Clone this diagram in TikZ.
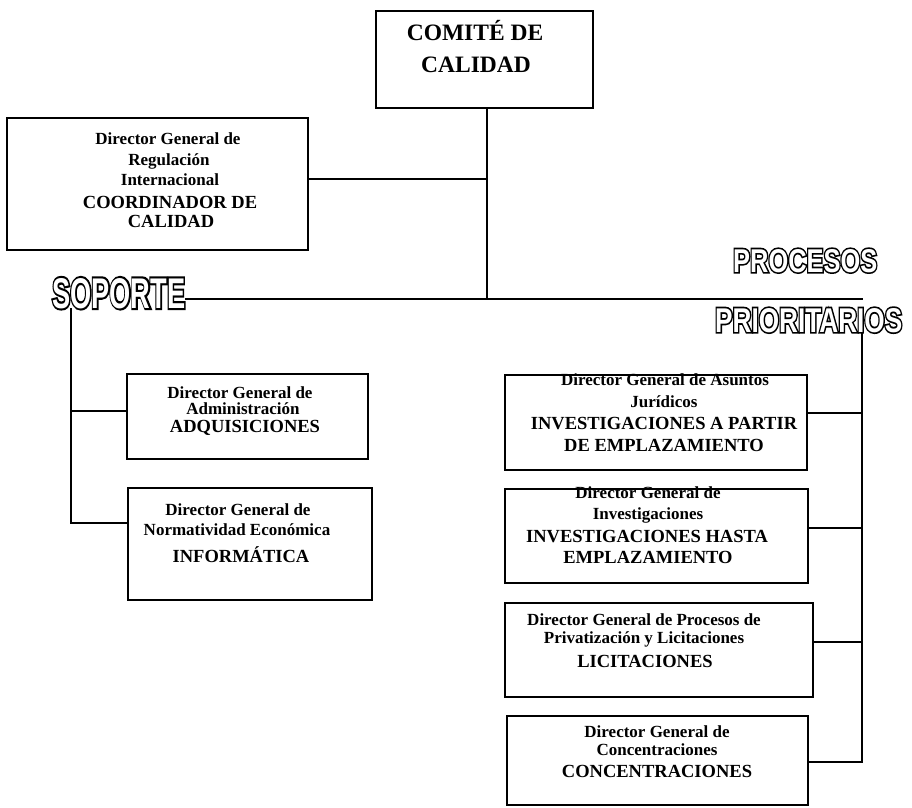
\documentclass[tikz,border=0pt]{standalone}
\usepackage{fontspec}
\setmainfont{Liberation Serif}
\newfontfamily\outfontK[FakeBold=10]{Liberation Sans Bold}
\newfontfamily\outfontW{Liberation Sans Bold}
\usepackage{graphicx}
\newcommand{\olay}[1]{\makebox[0pt][l]{#1}}
\newcommand{\bigword}[3]{\resizebox{#1}{#2}{\fontsize{40}{40}\selectfont\olay{\outfontK #3}\textcolor{white}{\outfontW #3}}}
\tikzset{
  box/.style={draw, line width=1.6pt, inner sep=0pt},
  ln/.style={line width=1.4pt},
  dl/.style={font=\fontsize{17}{19}\selectfont\bfseries, inner sep=0pt, anchor=base},
  cl/.style={font=\fontsize{18.5}{20}\selectfont\bfseries, inner sep=0pt, anchor=base},
  tl/.style={font=\fontsize{23.5}{26}\selectfont\bfseries, inner sep=0pt, anchor=base},
  cat/.style={inner sep=0pt, anchor=base west},
}
\begin{document}
\begin{tikzpicture}[x=1pt,y=-1pt]
\useasboundingbox (0,0) rectangle (912,807);
% boxes
\node[box, minimum width=217pt, minimum height=97pt] (comite) at (484.5,59.5) {};
\node[box, minimum width=301pt, minimum height=132pt] (coord) at (157.5,184) {};
\node[box, minimum width=241pt, minimum height=85pt] (adq) at (247.5,416.5) {};
\node[box, minimum width=244pt, minimum height=112pt] (inf) at (250,544) {};
\node[box, minimum width=302pt, minimum height=95pt] (b1) at (656,422.5) {};
\node[box, minimum width=303pt, minimum height=94pt] (b2) at (656.5,536) {};
\node[box, minimum width=308pt, minimum height=94pt] (b3) at (659,650) {};
\node[box, minimum width=301pt, minimum height=89pt] (b4) at (657.5,760.5) {};
% texts
\node[tl] (t1) at (475,40) {COMITÉ DE};
\node[tl] (t2) at (476,72) {CALIDAD};
\node[dl] (c1) at (168,144) {Director General de};
\node[dl] (c2) at (169,165) {Regulación};
\node[dl] (c3) at (170,185) {Internacional};
\node[cl] (c4) at (170,208) {COORDINADOR DE};
\node[cl] (c5) at (171,227) {CALIDAD};
\node[dl] (a1) at (240,398) {Director General de};
\node[dl] (a2) at (243,414) {Administración};
\node[cl] (a3) at (245,432) {ADQUISICIONES};
\node[dl] (i1) at (238,515) {Director General de};
\node[dl] (i2) at (237,535) {Normatividad Económica};
\node[cl] (i3) at (241,562) {INFORMÁTICA};
\node[dl] (p1) at (665,385) {Director General de Asuntos};
\node[dl] (p2) at (664,407) {Jurídicos};
\node[cl] (p3) at (664,429) {INVESTIGACIONES A PARTIR};
\node[cl] (p4) at (664,451) {DE EMPLAZAMIENTO};
\node[dl] (q1) at (648,498) {Director General de};
\node[dl] (q2) at (648,519) {Investigaciones};
\node[cl] (q3) at (647,542) {INVESTIGACIONES HASTA};
\node[cl] (q4) at (648,563) {EMPLAZAMIENTO};
\node[dl] (s1) at (644,625) {Director General de Procesos de};
\node[dl] (s2) at (644,643) {Privatización y Licitaciones};
\node[cl] (s3) at (645,667) {LICITACIONES};
\node[dl] (u1) at (657,737) {Director General de};
\node[dl] (u2) at (657,755) {Concentraciones};
\node[cl] (u3) at (657,777) {CONCENTRACIONES};
% category words
\node[cat] (soporte) at (52,308) {\bigword{133pt}{30pt}{SOPORTE}};
\node[cat] (procesos) at (733,272) {\bigword{144pt}{23pt}{PROCESOS}};
\node[cat] (priorit) at (715,332) {\bigword{187pt}{24pt}{PRIORITARIOS}};
% junctions
\coordinate (mid) at (487,299);
\coordinate (jc) at (487,179);
\coordinate (rend) at (863,299);
\coordinate (lt) at (71,308);
\coordinate (l1) at (71,411);
\coordinate (l2) at (71,523);
\coordinate (rt) at (862,332);
\coordinate (r1) at (862,413);
\coordinate (r2) at (862,528);
\coordinate (r3) at (862,642);
\coordinate (r4) at (862,762);
% connectors
\draw[ln] (comite.south -| mid) -- (mid);
\draw[ln] (coord.east |- jc) -- (jc);
\draw[ln] (soporte.east |- mid) -- (rend);
\draw[ln] (lt) -- (l2) -- (inf.west |- l2);
\draw[ln] (l1) -- (adq.west |- l1);
\draw[ln] (rt) -- (r4) -- (b4.east |- r4);
\draw[ln] (r1) -- (b1.east |- r1);
\draw[ln] (r2) -- (b2.east |- r2);
\draw[ln] (r3) -- (b3.east |- r3);
\end{tikzpicture}
\end{document}
